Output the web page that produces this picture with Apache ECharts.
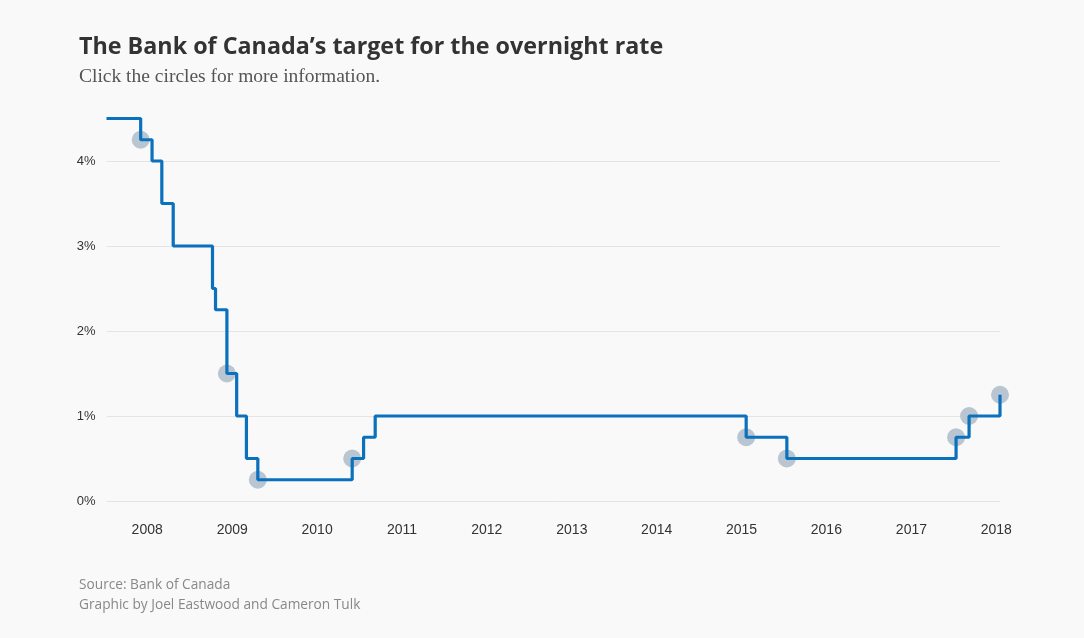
<!DOCTYPE html>
<html>
<head>
<meta charset="utf-8">
<script src="https://cdn.jsdelivr.net/npm/echarts@6/dist/echarts.min.js"></script>
<style>
  html, body { margin: 0; padding: 0; background: #f9f9f9; }
  #chart { width: 1084px; height: 638px; }
</style>
</head>
<body>
<div id="chart"></div>
<script>
// announcement dates and the new target rate (%)
var rateDates = ['2007-07-10', '2007-12-04', '2008-01-22', '2008-03-04', '2008-04-22',
    '2008-10-08', '2008-10-21', '2008-12-09', '2009-01-20', '2009-03-03', '2009-04-21',
    '2010-06-01', '2010-07-20', '2010-09-08', '2015-01-21', '2015-07-15', '2017-07-12',
    '2017-09-06', '2018-01-17'];
var rates = [4.5, 4.25, 4.0, 3.5, 3.0, 2.5, 2.25, 1.5, 1.0, 0.5, 0.25,
    0.5, 0.75, 1.0, 0.75, 0.5, 0.75, 1.0, 1.25];

// the clickable circles
var noteDates = ['2007-12-04', '2008-12-09', '2009-04-21', '2010-06-01', '2015-01-21',
    '2015-07-15', '2017-07-12', '2017-09-06', '2018-01-17'];
var noteRates = [4.25, 1.5, 0.25, 0.5, 0.75, 0.5, 0.75, 1.0, 1.25];

var yTicks = [0, 1, 2, 3, 4];

function t(s) {
    return echarts.time.parse(s).getTime();
}

var lineData = rateDates.map(function (d, i) { return [t(d), rates[i]]; });
var noteData = noteDates.map(function (d, i) { return [t(d), noteRates[i]]; });

var chart = echarts.init(document.getElementById('chart'));

var option = {
    backgroundColor: '#f9f9f9',
    animation: false,
    title: [{
        text: 'The Bank of Canada\u2019s target for the overnight rate',
        left: 79,
        top: 36,
        padding: 0,
        textStyle: {
            fontFamily: 'Open Sans',
            fontWeight: 'bold',
            fontSize: 23.3,
            color: '#333'
        }
    }, {
        text: 'Click the circles for more information.',
        left: 79,
        top: 67,
        padding: 0,
        textStyle: {
            fontFamily: 'Liberation Serif',
            fontWeight: 'normal',
            fontSize: 19.5,
            color: '#555'
        }
    }, {
        text: 'Source: Bank of Canada\nGraphic by Joel Eastwood and Cameron Tulk',
        left: 79,
        top: 575,
        padding: 0,
        textStyle: {
            fontFamily: 'Open Sans',
            fontWeight: 'normal',
            fontSize: 13.7,
            lineHeight: 20,
            color: '#888'
        }
    }],
    grid: {
        left: 106.5,
        right: 84,
        top: 118.5,
        bottom: 137
    },
    xAxis: {
        type: 'time',
        min: t(rateDates[0]),
        max: t(rateDates[rateDates.length - 1]),
        minInterval: 365 * 24 * 3600 * 1000,
        maxInterval: 366 * 24 * 3600 * 1000,
        axisLine: { show: false },
        axisTick: { show: false },
        splitLine: { show: false },
        axisLabel: {
            margin: 22,
            color: '#333',
            fontFamily: 'Liberation Sans',
            fontSize: 14,
            formatter: function (value) {
                var d = new Date(value);
                return (d.getMonth() === 0 && d.getDate() === 1) ? String(d.getFullYear()) : '';
            }
        }
    },
    yAxis: {
        type: 'value',
        min: yTicks[0],
        max: 4.5,
        interval: 1,
        axisLine: { show: false },
        axisTick: { show: false },
        splitLine: {
            showMaxLine: false,
            lineStyle: { color: '#e4e4e4', width: 1 }
        },
        axisLabel: {
            margin: 11,
            color: '#333',
            fontFamily: 'Liberation Sans',
            fontSize: 13,
            formatter: function (v) {
                return yTicks.indexOf(v) >= 0 ? v + '%' : '';
            }
        }
    },
    series: [{
        type: 'scatter',
        data: noteData,
        symbolSize: 18,
        z: 1,
        silent: true,
        itemStyle: { color: '#b9c5d1', opacity: 1 }
    }, {
        type: 'line',
        step: 'end',
        data: lineData,
        showSymbol: false,
        symbol: 'none',
        clip: false,
        z: 2,
        lineStyle: { color: '#0b71bc', width: 3.2 }
    }]
};

chart.setOption(option);
window.onresize = chart.resize;
</script>
</body>
</html>
